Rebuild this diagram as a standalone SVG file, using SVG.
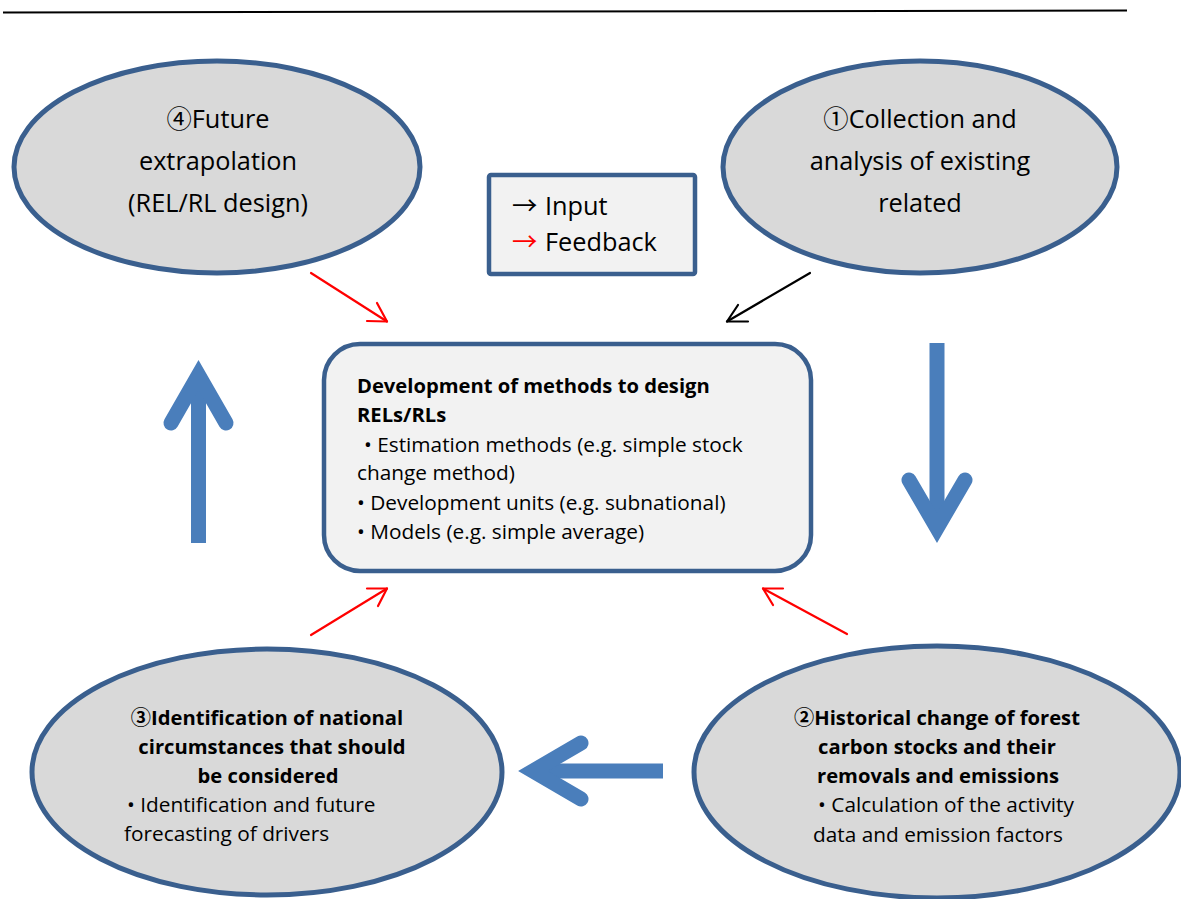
<svg xmlns="http://www.w3.org/2000/svg" width="1181" height="899" viewBox="0 0 1181 899">
<style>
.ell{fill:#D9D9D9;stroke:#3A5F8E;stroke-width:5}
.box{fill:#F2F2F2;stroke:#3A5F8E;stroke-width:4.5}
.t{font-family:"Open Sans","Noto Sans CJK JP","DejaVu Sans",sans-serif;fill:#000}
.big{font-size:25.3px}
.mid{font-size:20.8px}
.b{font-weight:bold;font-size:20.2px}
.c{text-anchor:middle}
.thick{fill:none;stroke:#4A7EBB;stroke-width:15}
.thin{fill:none;stroke-width:2.2;stroke-linecap:round;stroke-linejoin:round}
</style>
<rect width="1181" height="899" fill="#fff"/>
<line x1="3" y1="12.5" x2="1127" y2="10.5" stroke="#000" stroke-width="2"/>

<g id="node-future">
<ellipse class="ell" cx="217" cy="167" rx="203" ry="106"/>
<text class="t big c" x="218" y="128">④Future</text>
<text class="t big c" x="218" y="170">extrapolation</text>
<text class="t big c" x="218" y="212">(REL/RL design)</text>
</g>

<g id="node-collection">
<ellipse class="ell" cx="920" cy="167" rx="197" ry="106"/>
<text class="t big c" x="920" y="128">①Collection and</text>
<text class="t big c" x="920" y="170">analysis of existing</text>
<text class="t big c" x="920" y="212">related</text>
</g>

<g id="legend">
<rect class="box" x="489" y="175" width="206" height="99" rx="2"/>
<text class="t big" x="512" y="215"><tspan>→</tspan><tspan x="545">Input</tspan></text>
<text class="t big" x="512" y="251"><tspan fill="#FF0000">→</tspan><tspan x="545">Feedback</tspan></text>
</g>

<g id="node-methods">
<rect class="box" x="324" y="344" width="487" height="227" rx="36"/>
<text class="t b" x="357" y="393">Development of methods to design</text>
<text class="t b" x="357" y="422">RELs/RLs</text>
<text class="t mid" x="364" y="452">• Estimation methods (e.g. simple stock</text>
<text class="t mid" x="357" y="480">change method)</text>
<text class="t mid" x="357" y="510">• Development units (e.g. subnational)</text>
<text class="t mid" x="357" y="539">• Models (e.g. simple average)</text>
</g>

<g id="node-national">
<ellipse class="ell" cx="267" cy="772" rx="235" ry="123"/>
<text class="t b c" x="267" y="725">③Identification of national</text>
<text class="t b c" x="272" y="754">circumstances that should</text>
<text class="t b c" x="268" y="783">be considered</text>
<text class="t mid" x="127" y="812">• Identification and future</text>
<text class="t mid" x="124" y="841">forecasting of drivers</text>
</g>

<g id="node-historical">
<ellipse class="ell" cx="937" cy="772" rx="243" ry="126"/>
<text class="t b c" x="937" y="725">②Historical change of forest</text>
<text class="t b c" x="937" y="754">carbon stocks and their</text>
<text class="t b c" x="938" y="783">removals and emissions</text>
<text class="t mid c" x="946" y="812">• Calculation of the activity</text>
<text class="t mid c" x="938" y="842">data and emission factors</text>
</g>

<g id="connectors">
<g>
<line class="thick" x1="198.5" y1="543" x2="198.5" y2="378"/>
<polyline class="thick" points="171,423 198.5,375 226,423" stroke-linecap="round" stroke-linejoin="miter" stroke-miterlimit="10"/>
</g>
<g>
<line class="thick" x1="937" y1="343" x2="937" y2="525"/>
<polyline class="thick" points="909,480 937,528 965,480" stroke-linecap="round" stroke-linejoin="miter" stroke-miterlimit="10"/>
</g>
<g>
<line class="thick" x1="663" y1="771" x2="536" y2="771"/>
<polyline class="thick" points="581,743 533,771 581,799" stroke-linecap="round" stroke-linejoin="miter" stroke-miterlimit="10"/>
</g>
<g stroke="#FF0000" class="thin">
<line x1="311" y1="273" x2="387" y2="321.5"/>
<polyline points="367,321 387,321.5 377,303"/>
</g>
<g stroke="#000" class="thin">
<line x1="810" y1="273" x2="727" y2="321.5"/>
<polyline points="748,321.5 727,321.5 738,305"/>
</g>
<g stroke="#FF0000" class="thin">
<line x1="311" y1="635" x2="387" y2="588.5"/>
<polyline points="367,588.5 387,588.5 378,606"/>
</g>
<g stroke="#FF0000" class="thin">
<line x1="847" y1="634" x2="763" y2="588.5"/>
<polyline points="783,588.5 763,588.5 773,605"/>
</g>
</g>
</svg>
